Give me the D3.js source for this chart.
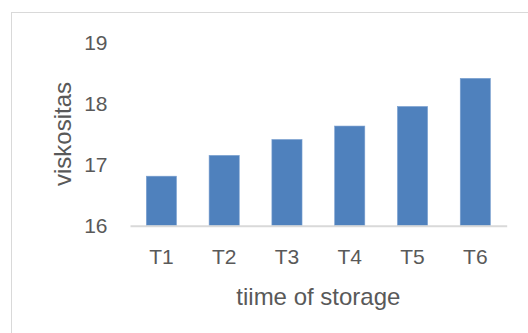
<!DOCTYPE html>
<html>
<head>
<meta charset="utf-8">
<script src="https://cdn.jsdelivr.net/npm/d3@7"></script>
<style>
  body { margin: 0; background: #fff; }
  svg { display: block; font-family: "Liberation Sans", Arial, sans-serif; }
</style>
</head>
<body>
<svg id="chart" width="528" height="333"></svg>
<script>
const categories = ['T1', 'T2', 'T3', 'T4', 'T5', 'T6'];
const viskositas = [16.81, 17.15, 17.41, 17.63, 17.95, 18.41];
const yTicks = [16, 17, 18, 19];

const svg = d3.select('#chart');
const textColor = '#595959';

// chart frame (runs off the right and bottom edge)
svg.append('rect')
  .attr('x', 11.5)
  .attr('y', 12.5)
  .attr('width', 540)
  .attr('height', 340)
  .attr('fill', 'none')
  .attr('stroke', '#d9d9d9');

const margin = { left: 130, right: 21.3, top: 42.3, bottom: 107.3 };
const width = 528 - margin.left - margin.right;
const height = 333 - margin.top - margin.bottom;

const g = svg.append('g')
  .attr('transform', `translate(${margin.left},${margin.top})`);

const x = d3.scaleBand()
  .domain(categories)
  .range([0, width])
  .paddingInner(0.52)
  .paddingOuter(0.26);

const y = d3.scaleLinear()
  .domain([16, 19])
  .range([height, 0]);

// bars
g.selectAll('rect.bar')
  .data(viskositas)
  .join('rect')
    .attr('class', 'bar')
    .attr('x', (d, i) => x(categories[i]))
    .attr('y', d => y(d))
    .attr('width', x.bandwidth())
    .attr('height', d => y(16) - y(d))
    .attr('fill', '#4f81bd')
    .attr('stroke', '#7aa0d0')
    .attr('stroke-width', 0.6);

// y axis labels, no line
const yAxis = g.append('g')
  .call(d3.axisLeft(y).tickValues(yTicks).tickSize(0).tickPadding(22.5).tickFormat(d3.format('d')));
yAxis.select('.domain').remove();
yAxis.selectAll('text')
  .attr('fill', textColor)
  .attr('font-size', 21)
  .attr('font-family', null);

// x axis
const xAxis = g.append('g')
  .attr('transform', `translate(0,${height})`)
  .call(d3.axisBottom(x).tickSize(0).tickPadding(23));
xAxis.select('.domain')
  .attr('stroke', '#d9d9d9')
  .attr('stroke-width', 2);
xAxis.selectAll('text')
  .attr('fill', textColor)
  .attr('font-size', 21)
  .attr('font-family', null);

// axis titles
svg.append('text')
  .attr('x', margin.left + width / 2)
  .attr('y', 305)
  .attr('text-anchor', 'middle')
  .attr('fill', textColor)
  .attr('font-size', 24)
  .text('tiime of storage');

svg.append('text')
  .attr('transform', `translate(70.5,${margin.top + height / 2}) rotate(-90)`)
  .attr('text-anchor', 'middle')
  .attr('fill', textColor)
  .attr('font-size', 24)
  .text('viskositas');
</script>
</body>
</html>
